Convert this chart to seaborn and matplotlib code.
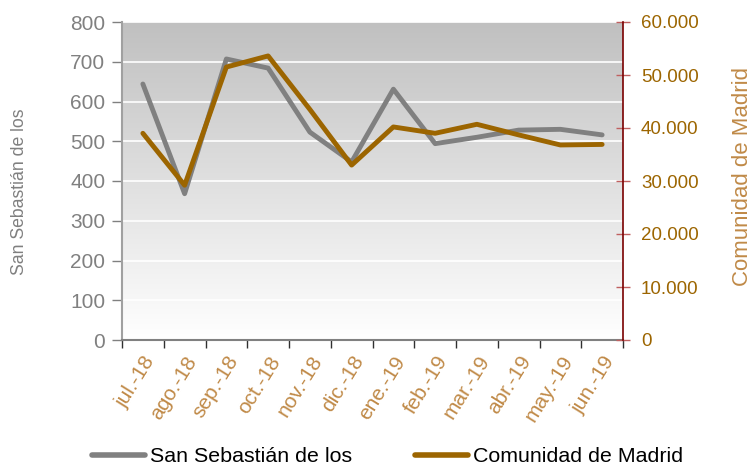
import numpy as np
import pandas as pd
import matplotlib
matplotlib.use("Agg")
import matplotlib.pyplot as plt
import seaborn as sns
from matplotlib.lines import Line2D

months = ["jul.-18", "ago.-18", "sep.-18", "oct.-18", "nov.-18", "dic.-18",
          "ene.-19", "feb.-19", "mar.-19", "abr.-19", "may.-19", "jun.-19"]
san_sebastian = [644, 368, 707, 684, 523, 448, 631, 494, 510, 528, 530, 516]
madrid = [39000, 29200, 51500, 53600, 43500, 33000, 40200, 39000, 40700, 38700, 36800, 36900]
left_ticks = [0, 100, 200, 300, 400, 500, 600, 700, 800]
right_ticks = [0, 10000, 20000, 30000, 40000, 50000, 60000]
right_labels = ["0", "10.000", "20.000", "30.000", "40.000", "50.000", "60.000"]

sns.set_style("white")
plt.rcParams['font.family'] = ['Liberation Sans', 'DejaVu Sans']

GRAY = "#808080"
ORANGE = "#9C6500"
BROWN_LBL = "#C08A48"

df = pd.DataFrame({"x": np.arange(len(months)), "ss": san_sebastian, "cm": madrid})

W, H = 752, 466
fig = plt.figure(figsize=(W/100, H/100), dpi=100)
ax = fig.add_axes([122/W, 1-340/H, (623-122)/W, (340-22)/H])
ax2 = ax.twinx()

# background gradient (gray at top, white at bottom)
grad = np.linspace(0, 1, 256).reshape(-1, 1)
cmap = matplotlib.colors.LinearSegmentedColormap.from_list("g", ["#C0C0C0", "#FFFFFF"])
ax.imshow(grad, extent=[-0.5, 11.5, 0, 800], origin="upper", aspect="auto", cmap=cmap, zorder=0)
ax.set_xlim(-0.5, 11.5)
ax.set_ylim(0, 800)
for v in left_ticks[1:]:
    ax.axhline(v, color="white", lw=1.2, zorder=1)

sns.lineplot(data=df, x="x", y="ss", ax=ax, color=GRAY, lw=3.5, zorder=3, legend=False)
sns.lineplot(data=df, x="x", y="cm", ax=ax2, color=ORANGE, lw=3.5, zorder=4, legend=False)
ax2.set_ylim(0, 60000)
ax.set_zorder(1)
ax2.set_zorder(2)
ax2.patch.set_visible(False)

ax.set_yticks(left_ticks)
ax.set_yticklabels([str(v) for v in left_ticks], color=GRAY, fontsize=15)
ax.tick_params(axis="y", direction="out", length=7, color=GRAY, width=1, left=True, pad=5)

ax.set_xticks(np.arange(len(months)))
ax.set_xticklabels(months, rotation=58, ha="right", rotation_mode="anchor",
                   color=BROWN_LBL, fontsize=15)
ax.set_xticks(np.arange(-0.5, 12, 1), minor=True)
ax.tick_params(axis="x", which="major", length=0, pad=9)
ax.tick_params(axis="x", which="minor", direction="out", length=6, color="#303030", width=1, bottom=True)
ax.set_xlabel("")
ax.set_ylabel("")

ax2.set_yticks(right_ticks)
ax2.set_yticklabels(right_labels, color=ORANGE, fontsize=13.5)
ax2.tick_params(axis="y", direction="inout", length=10, color="#C06060", width=1, right=True, pad=8)
ax2.set_ylabel("")
ax2.set_xlabel("")

fig.text(20/W, 1-192/H, "San Sebastián de los", color=GRAY, fontsize=12.7,
         rotation=90, ha="center", va="center")
fig.text(742/W, 1-176/H, "Comunidad de Madrid", color=BROWN_LBL, fontsize=16,
         rotation=90, ha="center", va="center")

for a in (ax, ax2):
    for s in a.spines.values():
        s.set_visible(False)
ax.spines["left"].set_visible(True)
ax.spines["left"].set_color("#A0A0A0")
ax.spines["left"].set_linewidth(1.5)
ax.spines["bottom"].set_visible(True)
ax.spines["bottom"].set_color("#808080")
ax.spines["bottom"].set_linewidth(1.5)
ax2.spines["right"].set_visible(True)
ax2.spines["right"].set_color("#7A0000")
ax2.spines["right"].set_linewidth(1.2)

handles = [Line2D([], [], color=GRAY, lw=4), Line2D([], [], color=ORANGE, lw=4)]
fig.legend(handles, ["San Sebastián de los", "Comunidad de Madrid"], loc="center",
           bbox_to_anchor=(387.5/W, 1-457/H), ncol=2, frameon=False, fontsize=15.4,
           handlelength=2.5, handletextpad=0.25, columnspacing=2.9, borderpad=0,
           labelcolor="black")

fig.savefig("out.png", dpi=100)
